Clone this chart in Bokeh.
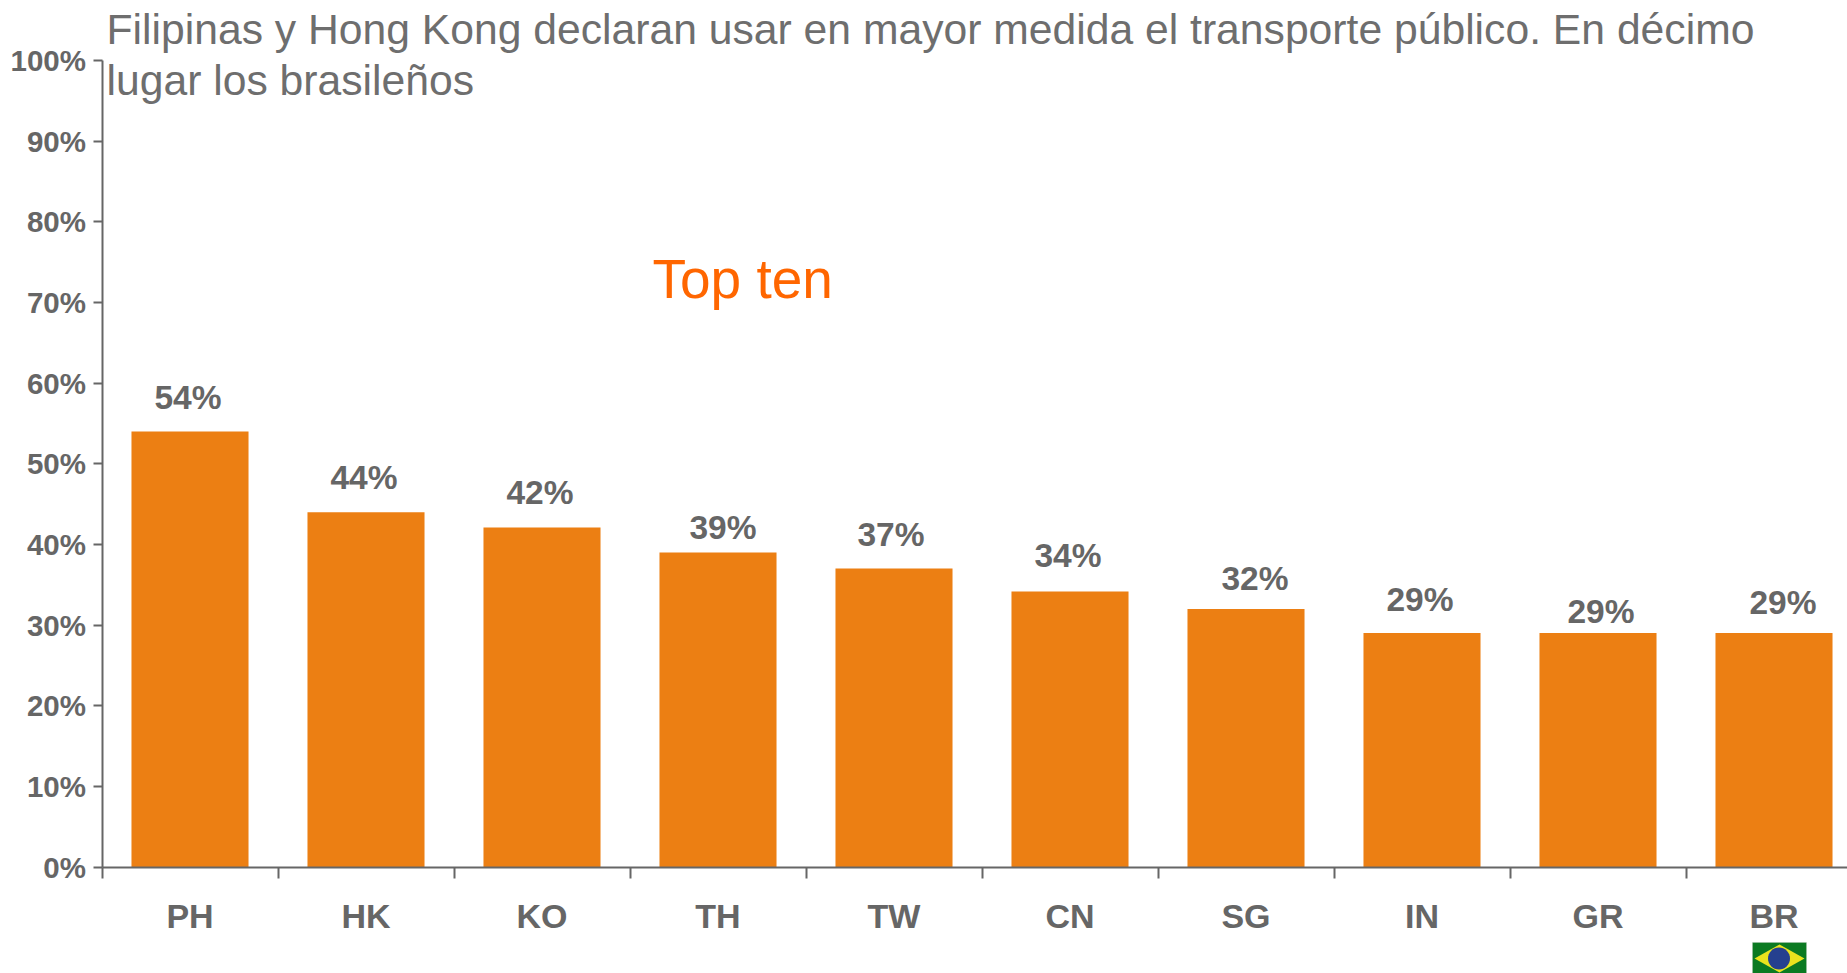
from bokeh.plotting import figure
from bokeh.embed import file_html
from bokeh.resources import INLINE
from bokeh.models import Range1d, FixedTicker, Label, PolyAnnotation, ColumnDataSource
from bokeh.core.properties import value
import math

categories = ["PH", "HK", "KO", "TH", "TW", "CN", "SG", "IN", "GR", "BR"]
values = [54, 44, 42.1, 39, 37, 34.15, 32, 29, 29, 29]
y_ticks = [0, 10, 20, 30, 40, 50, 60, 70, 80, 90, 100]
title_lines = ["Filipinas y Hong Kong declaran usar en mayor medida el transporte público. En décimo",
               "lugar los brasileños"]
label_dx = [-2, -2, -2, 5, -3, -2, 9, -2, 3, 9]
label_dy = [-34, -35, -35, -25, -34, -36, -30, -34, -22, -31]

GREY = "#666666"
FONT = "Liberation Sans"
W, H = 1847, 973
AXIS_X, Y100, Y0 = 101.5, 60, 866.5
STEP = 176
PX_PER_UNIT = (Y0 - Y100) / 100
n = len(categories)

def sx(px):
    return px

def sy(py):
    return H - py

p = figure(width=W, height=H, output_backend="svg", toolbar_location=None,
           x_range=Range1d(-AXIS_X / STEP, (W - AXIS_X) / STEP),
           y_range=Range1d(-(H - Y0) / PX_PER_UNIT, 100 + Y100 / PX_PER_UNIT),
           min_border_left=0, min_border_right=0, min_border_top=0, min_border_bottom=0,
           outline_line_color=None, background_fill_color="white")
p.grid.visible = False

centers = [i + 0.5 for i in range(n)]
src = ColumnDataSource(dict(x=centers, top=values, cat=categories,
                            txt=[f"{round(v)}%" for v in values], dx=label_dx, dy=label_dy))
p.vbar(x="x", top="top", bottom=0, width=0.665, source=src, fill_color="#EC7F13", line_color=None)
p.text(x="x", y="top", text="txt", source=src, x_offset="dx", y_offset="dy",
       text_align="center", text_baseline="middle", text_color=GREY,
       text_font=value(FONT), text_font_size="33.5px", text_font_style="bold")

xa = p.xaxis[0]
xa.fixed_location = 0
xa.bounds = (0, (W - AXIS_X) / STEP)
xa.ticker = FixedTicker(ticks=centers, minor_ticks=list(range(n + 1)))
xa.major_label_overrides = {c: l for c, l in zip(centers, categories)}
xa.major_tick_out = 0
xa.major_tick_in = 0
xa.minor_tick_out = 11
xa.minor_tick_in = 0
xa.minor_tick_line_color = GREY
xa.minor_tick_line_width = 2
xa.axis_line_color = GREY
xa.axis_line_width = 2
xa.major_label_standoff = 19
xa.major_label_text_color = GREY
xa.major_label_text_font = FONT
xa.major_label_text_font_size = "34px"
xa.major_label_text_font_style = "bold"

ya = p.yaxis[0]
ya.fixed_location = 0
ya.bounds = (0, 100)
ya.ticker = FixedTicker(ticks=y_ticks, minor_ticks=[])
ya.major_label_overrides = {t: f"{t}%" for t in y_ticks}
ya.major_tick_out = 9
ya.major_tick_in = 0
ya.major_tick_line_color = GREY
ya.major_tick_line_width = 2
ya.axis_line_color = GREY
ya.axis_line_width = 2
ya.major_label_standoff = 7
ya.major_label_text_color = GREY
ya.major_label_text_font = FONT
ya.major_label_text_font_size = "29.5px"
ya.major_label_text_font_style = "bold"

for line, y in zip(title_lines, [28.5, 79.5]):
    p.add_layout(Label(x=sx(106), y=sy(y), x_units="screen", y_units="screen", text=line,
                       text_color="#6E6E6E", text_font=FONT, text_font_size="42.66px",
                       text_align="left", text_baseline="middle"))

p.add_layout(Label(x=sx(652), y=sy(278), x_units="screen", y_units="screen", text="Top ten",
                   text_color="#FF6600", text_font=FONT, text_font_size="55px",
                   text_align="left", text_baseline="middle"))

def poly(xs, ys, color, line=None):
    p.add_layout(PolyAnnotation(xs=[sx(x) for x in xs], ys=[sy(y) for y in ys],
                                xs_units="screen", ys_units="screen",
                                fill_color=color, fill_alpha=1,
                                line_color=line, line_width=1 if line else 0))

poly([1752, 1806, 1806, 1752], [942, 942, 975, 975], "#0B7A22", "#B8C4BA")
poly([1754, 1779, 1804, 1779], [958, 944, 958, 972], "#E9E31E")
cx = [1778.5 + 11 * math.cos(2 * math.pi * k / 32) for k in range(32)]
cy = [958 + 11 * math.sin(2 * math.pi * k / 32) for k in range(32)]
poly(cx, cy, "#25408F")

open("out.html", "w").write(file_html(p, INLINE))
